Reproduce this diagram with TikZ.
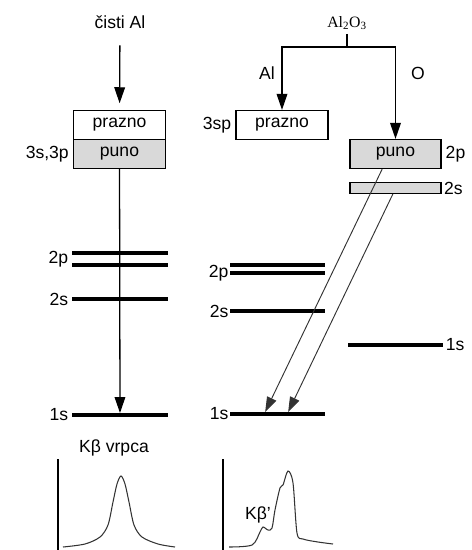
\documentclass[tikz,border=0pt]{standalone}
\usepackage{fontspec}
\setmainfont{Liberation Sans}
\newfontfamily\timesfont{Liberation Serif}
\usetikzlibrary{arrows.meta, positioning, calc}

\tikzset{
  lvl/.style={rectangle, fill=black, inner sep=0pt, minimum width=2.85cm, minimum height=3pt},
  band/.style={rectangle, draw, line width=1pt, minimum width=2.76cm, minimum height=0.87cm, inner sep=0pt},
  arr/.style={-{Triangle[length=0.48cm, width=0.32cm]}, line width=1.1pt},
  diag/.style={-{Triangle[length=0.45cm, width=0.3cm]}, line width=0.8pt, black!80},
}

\begin{document}
\begin{tikzpicture}[x=0.03cm, y=-0.03cm, font=\fontsize{15}{17}\selectfont]
\useasboundingbox (0,0) rectangle (472,550);

% pure Al
\node (al) at (120,22) {čisti Al};
\node[band] (lprazno) at (119.5,125) {prazno};
\node[band, fill=black!15] (lpuno) at (119.5,154) {puno};
\node[left=0pt of lpuno] {3s,3p};

% Al levels
\node[lvl] (l2pa) at (120,253) {};
\node[lvl] (l2pb) at (120,265) {};
\node[lvl] (l2s) at (120,299) {};
\node[lvl] (l1s) at (120,415) {};
\node[anchor=east] at ($(l2pa.west)!0.5!(l2pb.west)$) {2p};
\node[left=0pt of l2s] {2s};
\node[left=0pt of l1s] {1s};

\draw[arr, shorten <=0.38cm, shorten >=0.2cm] (al) -- (lprazno);
\draw[arr] (lpuno) -- (l1s);

% Al2O3
\node[font=\timesfont\fontsize{13.5}{15}\selectfont] (alox) at (347,23) {Al\textsubscript{2}O\textsubscript{3}};
\coordinate (split) at (347,47);
\node (albr) at (267,73) {Al};
\node (obr) at (418,73) {O};

\node[band] (r3sp) at (282,125) {prazno};
\node[left=0pt of r3sp] {3sp};
\node[band, fill=black!15, minimum width=2.73cm] (opuno) at (395.5,154) {puno};
\node[right=0pt of opuno] {2p};
\node[band, fill=black!15, minimum width=2.73cm, minimum height=0.33cm] (o2s) at (395.5,188) {};
\node[right=0pt of o2s, inner sep=2pt] {2s};

\draw[line width=1.1pt] (alox) -- (split);
\draw[arr] (split) -| (r3sp);
\draw[arr] (split) -| (opuno);

% Al2O3 levels
\node[lvl] (r2pa) at (277.5,265) {};
\node[lvl] (r2pb) at (277.5,273) {};
\node[lvl] (r2s) at (277.5,311) {};
\node[lvl] (r1s) at (277.5,414) {};
\node[lvl] (o1s) at (395.5,345) {};
\node[left=0pt of r2pb, inner sep=1pt] {2p};
\node[left=0pt of r2s, inner sep=1pt] {2s};
\node[left=0pt of r1s, inner sep=1pt] {1s};
\node[right=0pt of o1s, inner sep=2pt] {1s};

\draw[diag] ([xshift=-0.4cm]opuno.south) -- ([xshift=-0.37cm]r1s.north);
\draw[diag] ([xshift=-0.08cm]o2s.south) -- ([xshift=0.32cm]r1s.north);

% spectra
\node (kbl) at (114,448) {Kβ vrpca};
\draw[line width=1pt] (58,459) -- (58,550);
\draw[line width=0.9pt, black!80] plot[smooth, tension=0.5] coordinates {(63,547) (85,544) (100,537) (108,525) (113,502) (117,484) (121,476) (125,484) (129,502) (134,525) (142,537) (158,544) (175,547)};

\draw[line width=1pt] (223,459) -- (223,550);
\draw[line width=0.9pt, black!80] plot[smooth, tension=0.5] coordinates {(229,547) (252,545) (260,532) (263,527) (268,530) (272,528) (275,510) (280,488) (283,485) (288,471) (293,483) (297,533) (303,539) (318,542) (333,544)};
\node (kbr) at (258,515) {Kβ'};
\end{tikzpicture}
\end{document}
